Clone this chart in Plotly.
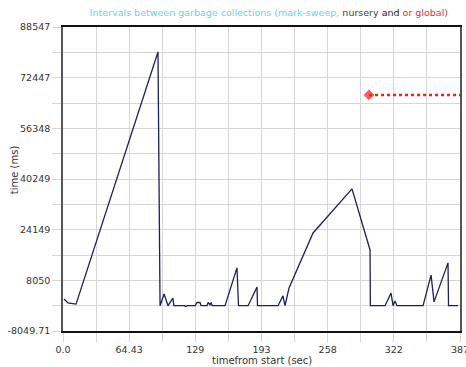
import plotly.graph_objects as go

# ---- data ----
gc_time_sec = [1.0, 4.9, 12.7, 92.5, 93.5, 94.5, 98.4, 102.3, 107.0, 108.0, 118.0, 119.5, 121.0,
               128.6, 130.5, 133.4, 134.4, 140.3, 141.3, 143.2, 144.2, 145.2, 157.8, 169.4, 170.9,
               180.2, 188.9, 189.4, 209.4, 214.2, 216.2, 220.1, 243.5, 281.4, 299.0, 299.3,
               313.6, 319.4, 321.4, 323.3, 325.2, 350.6, 358.4, 361.3, 374.9, 375.4, 384.6]
gc_interval_ms = [2100, 850, 500, 80600, 40000, 0, 3700, 0, 2400, 0, 0, -300, 0,
                  0, 1000, 1000, 0, 0, 1000, 300, 1000, 0, 0, 12000, 0,
                  0, 5900, 0, 0, 3100, 0, 5600, 23100, 37100, 17700, 0,
                  0, 4000, 0, 1500, 0, 0, 9700, 1200, 13600, 0, 0]

global_time_sec = [298.0, 400.0]
global_interval_ms = [66950, 66950]

x_tick_vals = [0, 64.43, 128.86, 193.29, 257.72, 322.15, 386.58]
x_tick_text = ["0.0", "64.43", "129", "193", "258", "322", "387"]
y_tick_vals = [-8049.71, 8049.74, 24149.19, 40248.65, 56348.10, 72447.55, 88547.0]
y_tick_text = ["-8049.71", "8050", "24149", "40249", "56348", "72447", "88547"]

font_family = "DejaVu Sans"
grid_c = "#d6d6d6"

fig = go.Figure()
fig.add_trace(go.Scatter(x=gc_time_sec, y=gc_interval_ms, mode="lines",
                         line=dict(color="#1f1f5e", width=1.3), showlegend=False,
                         hoverinfo="skip"))
fig.add_trace(go.Scatter(x=global_time_sec, y=global_interval_ms, mode="lines+markers",
                         line=dict(color="#ff1a1a", width=2.5, dash="dot"),
                         marker=dict(symbol="diamond", size=[9, 0], color="#ff1a1a"),
                         showlegend=False, hoverinfo="skip"))

fig.update_layout(
    width=466, height=367,
    margin=dict(l=63, r=6, t=27, b=36),
    paper_bgcolor="white", plot_bgcolor="white",
    font=dict(family=font_family, size=10, color="#333333"),
    title=dict(
        text=('<span style="color:#66d9d9">Intervals between garbage collections (mark-sweep, </span>'
              '<span style="color:#2f4a2f">nursery</span> <span style="color:#222222">and</span> '
              '<span style="color:#e0303c">or global)</span>'),
        x=0.577, xanchor="center", y=0.965, yanchor="middle",
        font=dict(family=font_family, size=9.5)),
    xaxis=dict(range=[0, 386.58], tickvals=x_tick_vals, ticktext=x_tick_text,
               automargin=False, ticklabeloverflow="allow",
               showgrid=True, gridcolor=grid_c, gridwidth=1,
               ticks="outside", ticklen=9, tickcolor=grid_c,
               showline=True, linecolor="#111111", linewidth=1.5, mirror=True,
               zeroline=False, tickfont=dict(size=9.5, color="#333333"),
               minor=dict(dtick=32.215, tick0=0, showgrid=True, gridcolor=grid_c,
                          ticks="outside", ticklen=9, tickcolor=grid_c)),
    yaxis=dict(range=[-8049.71, 88547], tickvals=y_tick_vals, ticktext=y_tick_text,
               automargin=False, ticklabeloverflow="allow",
               showgrid=True, gridcolor=grid_c, gridwidth=1,
               ticks="outside", ticklen=9, tickcolor=grid_c,
               showline=True, linecolor="#555555", linewidth=1.6, mirror=True,
               zeroline=False, tickfont=dict(size=9.5, color="#333333"),
               minor=dict(dtick=8049.725, tick0=-8049.71, showgrid=True, gridcolor=grid_c,
                          ticks="outside", ticklen=9, tickcolor=grid_c)),
    annotations=[
        dict(text="time (ms)", xref="paper", yref="paper", x=-0.12, y=0.53,
             textangle=-90, showarrow=False, font=dict(size=10, color="#333333"),
             xanchor="center", yanchor="middle"),
        dict(text="timefrom start (sec)", xref="paper", yref="paper", x=0.5, y=-0.072,
             showarrow=False, font=dict(size=10, color="#333333"),
             xanchor="center", yanchor="top"),
    ],
)

fig.write_html("out.html", config={"displayModeBar": False},
               post_script="document.body.style.margin='0';document.body.style.overflow='hidden';")
